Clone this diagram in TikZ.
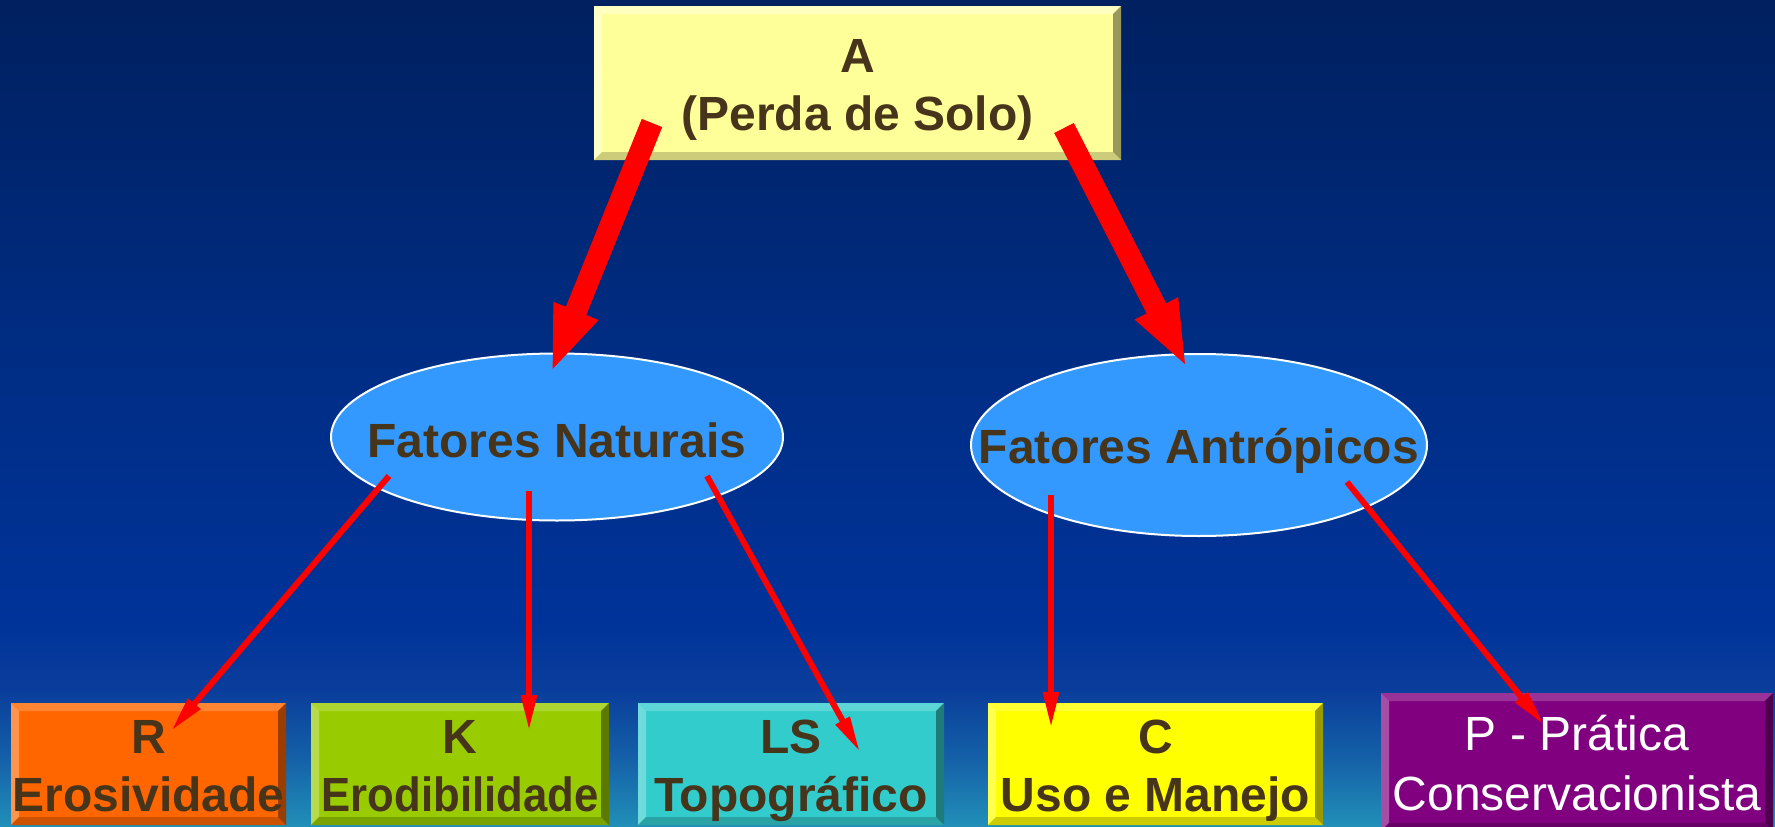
\documentclass[tikz,border=0pt]{standalone}
\usepackage{fontspec}
\setmainfont{Liberation Sans}
\usetikzlibrary{arrows.meta,shapes.geometric}
\definecolor{txt}{HTML}{46341B}
\definecolor{ellfill}{HTML}{3399FF}
\definecolor{arr}{HTML}{FF0000}
% background stops
\definecolor{bgA}{HTML}{2190B8}
\definecolor{bgB}{HTML}{1562A8}
\definecolor{bgC}{HTML}{0A3D9B}
\definecolor{bgD}{HTML}{003399}
\definecolor{bgE}{HTML}{002E88}
\definecolor{bgF}{HTML}{00205F}
\pgfdeclareverticalshading{bgshade}{100bp}{color(0bp)=(bgA); color(25bp)=(bgA); color(29bp)=(bgB); color(33.3bp)=(bgC); color(37.5bp)=(bgD); color(50.8bp)=(bgE); color(75bp)=(bgF); color(100bp)=(bgF)}
% box colours: F face, T top, L left, B bottom, R right
\definecolor{AF}{HTML}{FFFF99}\definecolor{AT}{HTML}{FFFFBF}\definecolor{AL}{HTML}{FFFFC8}\definecolor{AB}{HTML}{CCCC7A}\definecolor{AR}{HTML}{99995C}
\definecolor{RF}{HTML}{FF6600}\definecolor{RT}{HTML}{FF8533}\definecolor{RL}{HTML}{FF944D}\definecolor{RB}{HTML}{CC5200}\definecolor{RR}{HTML}{993D00}
\definecolor{KF}{HTML}{99CC00}\definecolor{KT}{HTML}{ADD633}\definecolor{KL}{HTML}{B8DB4D}\definecolor{KB}{HTML}{7AA300}\definecolor{KR}{HTML}{5C7A00}
\definecolor{SF}{HTML}{33CCCC}\definecolor{ST}{HTML}{5CD6D6}\definecolor{SL}{HTML}{70DBDB}\definecolor{SB}{HTML}{29A3A3}\definecolor{SR}{HTML}{1F7A7A}
\definecolor{CF}{HTML}{FFFF00}\definecolor{CT}{HTML}{FFFF33}\definecolor{CL}{HTML}{FFFF4D}\definecolor{CB}{HTML}{CCCC00}\definecolor{CR}{HTML}{999900}
\definecolor{PF}{HTML}{800080}\definecolor{PT}{HTML}{993399}\definecolor{PL}{HTML}{A64DA6}\definecolor{PB}{HTML}{660066}\definecolor{PR}{HTML}{4D004D}
\newcommand\bvw{8pt}
\tikzset{
  bev/.style={rectangle, inner sep=0pt, outer sep=0pt, fill=#1F, path picture={
    \fill[#1T] (path picture bounding box.north west) -- (path picture bounding box.north east)
      -- ([shift={(-\bvw,-\bvw)}]path picture bounding box.north east) -- ([shift={(\bvw,-\bvw)}]path picture bounding box.north west) -- cycle;
    \fill[#1L] (path picture bounding box.north west) -- ([shift={(\bvw,-\bvw)}]path picture bounding box.north west)
      -- ([shift={(\bvw,\bvw)}]path picture bounding box.south west) -- (path picture bounding box.south west) -- cycle;
    \fill[#1B] (path picture bounding box.south west) -- ([shift={(\bvw,\bvw)}]path picture bounding box.south west)
      -- ([shift={(-\bvw,\bvw)}]path picture bounding box.south east) -- (path picture bounding box.south east) -- cycle;
    \fill[#1R] (path picture bounding box.south east) -- ([shift={(-\bvw,\bvw)}]path picture bounding box.south east)
      -- ([shift={(-\bvw,-\bvw)}]path picture bounding box.north east) -- (path picture bounding box.north east) -- cycle;
  }},
  ell/.style={ellipse, fill=ellfill, draw=white, line width=2pt, inner sep=0pt},
  lbl/.style={inner sep=0pt, anchor=base, text=txt, font=\fontsize{48}{57.6}\selectfont\bfseries},
  wlbl/.style={inner sep=0pt, anchor=base, text=white, font=\fontsize{48}{57.6}\selectfont},
  thick arrow/.style={draw=arr, line width=22pt, -{Triangle[length=67pt,width=43pt]}},
  thin arrow/.style={draw=arr, line width=6pt, -{Triangle[length=36pt,width=15pt]}}
}
\begin{document}
\begin{tikzpicture}[x=1pt,y=-1pt]
\useasboundingbox (0,0) rectangle (1775,827);
\clip (0,0) rectangle (1775,827);
\shade[shading=bgshade] (0,0) rectangle (1775,827);

% top box
\node[bev=A, minimum width=527pt, minimum height=154pt] (A) at (857.5,83) {};
\node[lbl] (At1) at (857.5,72) {A};
\node[lbl] (At2) at (857.5,130) {(Perda de Solo)};

% ellipses
\node[ell, minimum width=452pt, minimum height=167pt] (nat) at (557,437) {};
\node[lbl] (natT) at (557,457) {Fatores Naturais};
\node[ell, minimum width=456pt, minimum height=182pt] (ant) at (1199,445) {};
\node[lbl] (antT) at (1199,463) {Fatores Antrópicos};

% bottom boxes
\node[bev=R, minimum width=275pt, minimum height=122pt] (R) at (148.5,764) {};
\node[lbl] (Rt1) at (148.5,753) {R};
\node[lbl] (Rt2) at (148.5,811) {Erosividade};

\node[bev=K, minimum width=298pt, minimum height=122pt] (K) at (460,764) {};
\node[lbl] (Kt1) at (460,753) {K};
\node[lbl] (Kt2) at (460,811) {\scalebox{0.91}[1]{Erodibilidade}};

\node[bev=S, minimum width=306pt, minimum height=122pt] (LS) at (791,764) {};
\node[lbl] (St1) at (791,753) {LS};
\node[lbl] (St2) at (791,811) {Topográfico};

\node[bev=C, minimum width=335pt, minimum height=122pt] (C) at (1155.5,764) {};
\node[lbl] (Ct1) at (1155.5,753) {C};
\node[lbl] (Ct2) at (1155.5,811) {Uso e Manejo};

\node[bev=P, minimum width=392pt, minimum height=138pt] (P) at (1577,762) {};
\node[wlbl] (Pt1) at (1577,750) {P - Prática};
\node[wlbl] (Pt2) at (1577,810) {Conservacionista};

% connector end points
\coordinate (aL) at (652,123);  \coordinate (natIn) at (551,373);
\coordinate (aR) at (1064,128); \coordinate (antIn) at (1187,368);
\coordinate (n1) at (389,476);  \coordinate (Rin) at (171,731);
\coordinate (n2) at (529,491);  \coordinate (Kin) at (529,731);
\coordinate (n3) at (707,476);  \coordinate (Sin) at (860,752);
\coordinate (m1) at (1051,495); \coordinate (Cin) at (1051,728);
\coordinate (m2) at (1347,482); \coordinate (Pin) at (1544,725);

\draw[thick arrow] (aL) -- (natIn);
\draw[thick arrow] (aR) -- (antIn);
\draw[thin arrow] (n1) -- (Rin);
\draw[thin arrow] (n2) -- (Kin);
\draw[thin arrow] (n3) -- (Sin);
\draw[thin arrow] (m1) -- (Cin);
\draw[thin arrow] (m2) -- (Pin);
\end{tikzpicture}
\end{document}
